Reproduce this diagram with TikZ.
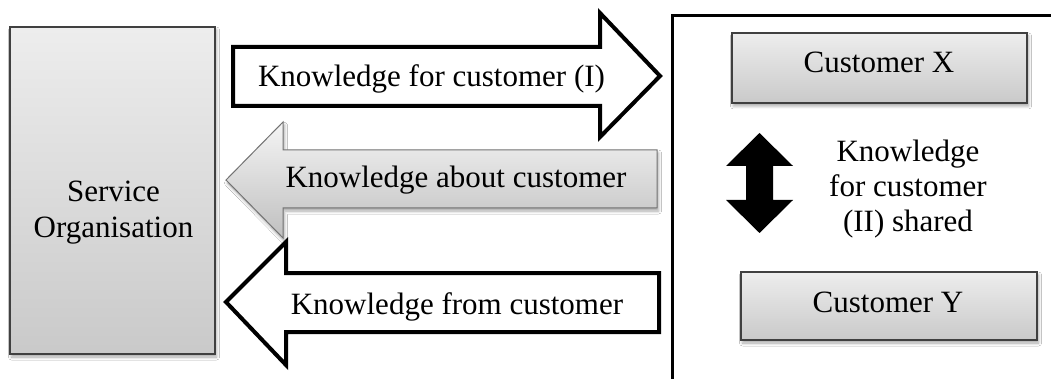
\documentclass[tikz,border=0pt]{standalone}
\usepackage{fontspec}
\setmainfont{Liberation Serif}
\usetikzlibrary{shadows.blur}
\begin{document}
\begin{tikzpicture}[x=1pt,y=-1pt,
  lbl/.style={font=\fontsize{31}{36}\selectfont, inner sep=0pt, anchor=base},
  softshadow/.style={blur shadow={shadow blur steps=6, shadow xshift=1.5pt, shadow yshift=-3pt, shadow opacity=35, shadow blur radius=3pt}},
  graybox/.style={draw=black!75, line width=1.6pt, top color=black!7, bottom color=black!21, softshadow, inner sep=0pt},
  whitearrow/.style={draw=black, line width=4pt, fill=white, line join=miter},
  grayarrow/.style={draw=black!55, line width=1pt, top color=black!4, bottom color=black!25, softshadow, line join=miter}
]
\useasboundingbox (0,0) rectangle (1051,379);
\fill[white] (0,0) rectangle (1051,379);

% Service organisation
\node[graybox, minimum width=205pt, minimum height=327pt] (org) at (112.5,190.5) {};
\node[lbl, align=center] (orgtxt) at (113.5,238) {Service\\Organisation};

% Arrow 1 (to customer)
\draw[whitearrow] (233,47) -- (600,47) -- (600,13) -- (660,76) -- (600,137) -- (600,106) -- (233,106) -- cycle;
\node[lbl] (a1) at (431.5,87) {Knowledge for customer (I)};

% Arrow 2 (about customer)
\path[grayarrow] (657,150) -- (283,150) -- (283,122) -- (226,180) -- (283,238) -- (283,208) -- (657,208) -- cycle;
\node[lbl] (a2) at (456,188) {Knowledge about customer};

% Arrow 3 (from customer)
\draw[whitearrow] (659,273) -- (286,273) -- (286,242) -- (226,302) -- (286,365) -- (286,332) -- (659,332) -- cycle;
\node[lbl] (a3) at (457,314) {Knowledge from customer};

% Customer panel
\draw[line width=3pt] (672,381) -- (672,16) -- (1053,16);

% Customers
\node[graybox, minimum width=295pt, minimum height=70pt] (cx) at (879.5,68) {};
\node[lbl] (cxtxt) at (879,73) {Customer X};
\node[graybox, minimum width=296pt, minimum height=68pt] (cy) at (889,306) {};
\node[lbl] (cytxt) at (888,312) {Customer Y};

% Double arrow
\fill[black] (759.5,133) -- (793,166) -- (773,166) -- (773,200) -- (793,200) -- (759.5,233) -- (726,200) -- (746,200) -- (746,166) -- (726,166) -- cycle;

\node[lbl, align=center, font=\fontsize{31}{35}\selectfont] (shared) at (908,232) {Knowledge\\for customer\\(II) shared};
\end{tikzpicture}
\end{document}
